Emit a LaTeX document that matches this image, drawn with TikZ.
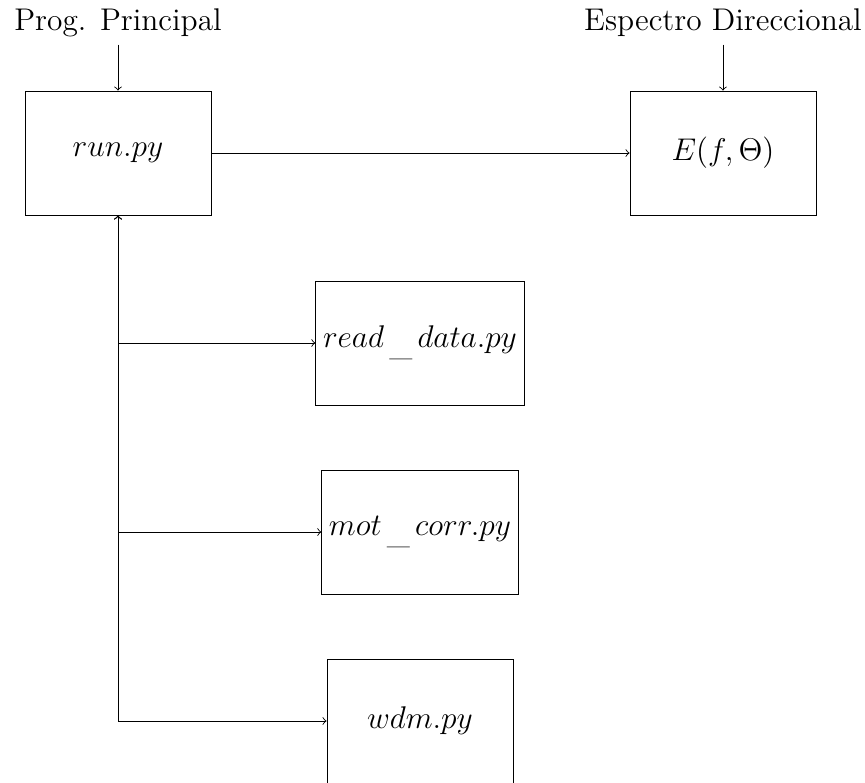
\documentclass[tikz,border=0pt]{standalone}
\newcommand{\lowus}{\,\raisebox{-3.5pt}{\_}\,}
\begin{document}
\begin{tikzpicture}[
  box/.style={draw, minimum width=3cm, minimum height=2cm, font=\Large},
  lbl/.style={font=\Large},
  conn/.style={->}
]
\useasboundingbox (0,0) rectangle (13.952,-12.629);
\node[box] (run) at (1.903,-2.468) {$run.py$};
\node[box] (E) at (11.661,-2.468) {$E(f,\Theta)$};
\node[box] (read) at (6.774,-5.532) {$read\lowus data.py$};
\node[box] (mot) at (6.774,-8.581) {$mot\lowus corr.py$};
\node[box] (wdm) at (6.774,-11.629) {$wdm.py$};
\node[lbl] (lp) at (1.903,-0.37) {Prog. Principal};
\node[lbl] (le) at (11.661,-0.37) {Espectro Direccional};
\draw[conn] (lp.south) -- (run.north);
\draw[conn] (le.south) -- (E.north);
\draw[conn] (run.east) -- (E.west);
\draw[<->] (run.south) |- (read.west);
\draw[<->] (run.south) |- (mot.west);
\draw[<->] (run.south) |- (wdm.west);
\end{tikzpicture}
\end{document}
